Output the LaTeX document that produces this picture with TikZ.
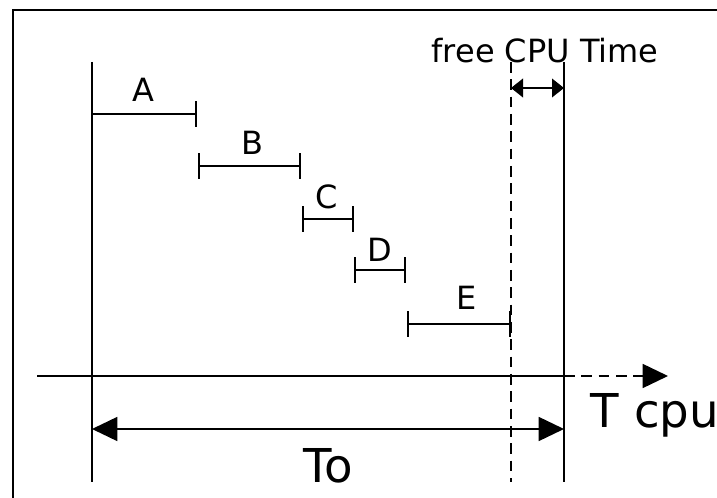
\documentclass[tikz,border=0pt]{standalone}
\usepackage{fontspec}
\setmainfont{DejaVu Sans}
\usetikzlibrary{arrows.meta}

\begin{document}
\begin{tikzpicture}[x=0.75pt,y=-0.75pt,line width=1.2pt,
                    >={Triangle[length=19pt,width=18pt]}]
  \tikzstyle{seg}=[{Bar[width=19pt]}-{Bar[width=19pt]}]
  \tikzstyle{lbl}=[anchor=base,inner sep=0pt,font=\fontsize{24}{28}\selectfont]
  \tikzstyle{big}=[inner sep=0pt,font=\fontsize{35}{40}\selectfont]

  \useasboundingbox (0,0) rectangle (717,498);

  % frame
  \coordinate (fl) at (13,498);
  \coordinate (fc) at (13,10);
  \coordinate (fr) at (717,10);
  \draw (fl) -- (fc) -- (fr);

  % time marks
  \coordinate (s0) at (92,62);   \coordinate (s1) at (92,482);
  \coordinate (f0) at (511,62);  \coordinate (f1) at (511,482);
  \coordinate (e0) at (564,62);  \coordinate (e1) at (564,482);
  \draw (s0) -- (s1);
  \draw (e0) -- (e1);
  \draw[dash pattern=on 8pt off 5pt] (f0) -- (f1);

  % tasks
  \coordinate (a0) at (92,114);  \coordinate (a1) at (197,114);
  \coordinate (b0) at (198,166); \coordinate (b1) at (301,166);
  \coordinate (c0) at (302,219); \coordinate (c1) at (354,219);
  \coordinate (d0) at (354,270); \coordinate (d1) at (406,270);
  \coordinate (x0) at (407,324); \coordinate (x1) at (511,324);
  \draw[-{Bar[width=19pt]}] (a0) -- (a1);
  \draw[seg] (b0) -- (b1);
  \draw[seg] (c0) -- (c1);
  \draw[seg] (d0) -- (d1);
  \draw[seg] (x0) -- (x1);
  \node[lbl] (A) at (143,102) {A};
  \node[lbl] (B) at (252,155) {B};
  \node[lbl] (C) at (327,209) {C};
  \node[lbl] (D) at (380,262) {D};
  \node[lbl] (E) at (467,310) {E};

  % free time
  \coordinate (g0) at (511,88);  \coordinate (g1) at (564,88);
  \draw[{Triangle[length=9pt,width=14pt]}-{Triangle[length=9pt,width=14pt]}] (g0) -- (g1);
  \node[lbl] (free) at (545,63) {free CPU Time};

  % time axis
  \coordinate (t0) at (37,376);  \coordinate (t1) at (564,376);
  \coordinate (t2) at (668,376);
  \draw (t0) -- (t1);
  \draw[->,dash pattern=on 8pt off 5pt] (t1) -- (t2);
  \node[big,anchor=base west] (Tcpu) at (590,428) {T cpu};

  % period
  \coordinate (o0) at (92,429);  \coordinate (o1) at (564,429);
  \draw[<->] (o0) -- (o1);
  \node[big,anchor=base] (To) at (328,482) {To};
\end{tikzpicture}
\end{document}
